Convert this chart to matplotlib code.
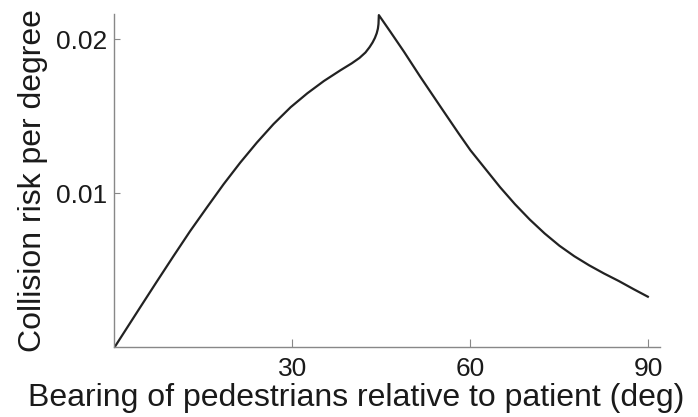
import matplotlib
matplotlib.use("Agg")
import matplotlib.pyplot as plt

# Bearing (deg) and collision risk per degree
bearing = [0, 4.3, 7.1, 9.9, 12.75, 15.6, 18.4, 21.2, 24.0, 26.8, 29.7, 32.5, 35.3,
           38.1, 40.0, 41.3, 42.3, 43.0, 43.5, 43.9, 44.2, 44.4, 44.5, 44.56,
           46.5, 48.8, 51.5, 55.0, 58.0, 60.0, 62.5, 65.0, 67.5, 70.0, 72.5, 75.0,
           77.5, 80.0, 82.5, 85.0, 87.5, 89.9]
risk = [0.0, 0.00258, 0.00425, 0.0059, 0.00755, 0.0091, 0.0106, 0.0120, 0.0133,
        0.0145, 0.0156, 0.0165, 0.0173, 0.0180, 0.01845, 0.0188, 0.01915, 0.0195,
        0.0198, 0.0201, 0.0204, 0.0207, 0.0210, 0.02158,
        0.0205, 0.0192, 0.0176, 0.0156, 0.0139, 0.0128, 0.0116, 0.0104, 0.0093,
        0.0083, 0.0074, 0.0066, 0.00592, 0.00533, 0.0048, 0.00431, 0.00378, 0.00329]

xticks = [30, 60, 90]
yticks = [0.01, 0.02]
ytick_labels = ["0.01", "0.02"]

plt.rcParams['font.family'] = ['Liberation Sans', 'DejaVu Sans']

fig = plt.figure(figsize=(6.98, 4.17), dpi=100)
ax = fig.add_axes([0.164, 0.167, 0.782, 0.799])
ax.plot(bearing, risk, color='#222222', linewidth=1.6, solid_joinstyle='round')
ax.set_xlim(0, 92)
ax.set_ylim(0, 0.02164)
ax.set_xticks(xticks)
ax.set_xticklabels([str(t) for t in xticks])
ax.set_yticks(yticks)
ax.set_yticklabels(ytick_labels)
for s in ['top', 'right']:
    ax.spines[s].set_visible(False)
for s in ['left', 'bottom']:
    ax.spines[s].set_color('#888888')
    ax.spines[s].set_linewidth(1.0)
ax.tick_params(axis='x', direction='in', length=6, width=0.8, color='#888888',
               labelsize=19, pad=7, labelcolor='#1a1a1a')
ax.tick_params(axis='y', direction='in', length=4, width=0.8, color='#888888',
               labelsize=19, pad=5, labelcolor='#1a1a1a')
ax.set_xlabel('Bearing of pedestrians relative to patient (deg)', fontsize=23,
              color='#1a1a1a')
ax.xaxis.set_label_coords(0.443, -0.108)
ax.set_ylabel('Collision risk per degree', fontsize=23, color='#1a1a1a', labelpad=6)
fig.savefig('out.png', dpi=100)
